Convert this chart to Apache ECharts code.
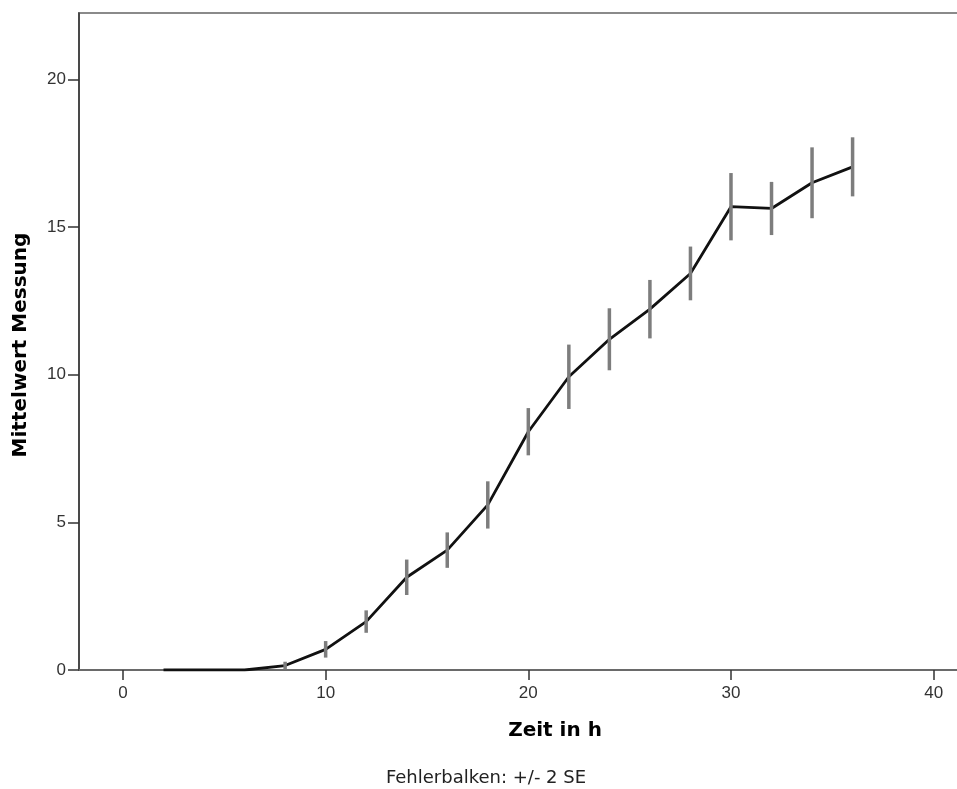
<!DOCTYPE html>
<html>
<head>
<meta charset="utf-8">
<script src="https://cdn.jsdelivr.net/npm/echarts@6/dist/echarts.min.js"></script>
<style>
  html, body { margin: 0; padding: 0; background: #fff; }
  #chart { width: 957px; height: 789px; }
</style>
</head>
<body>
<div id="chart"></div>
<script>
// Zeitpunkte (h), Mittelwerte und Fehlerbalken (2 * Standardfehler)
const zeit = [2, 4, 6, 8, 10, 12, 14, 16, 18, 20, 22, 24, 26, 28, 30, 32, 34, 36];
const mittelwert = [0, 0, 0, 0.15, 0.70, 1.64, 3.14, 4.06, 5.59, 8.07, 9.93, 11.20, 12.22, 13.43, 15.69, 15.63, 16.50, 17.04];
const zweiSE = [0, 0, 0, 0.13, 0.28, 0.38, 0.60, 0.60, 0.80, 0.80, 1.09, 1.05, 0.99, 0.91, 1.14, 0.90, 1.20, 1.00];
const xTicks = [0, 10, 20, 30, 40];
const yTicks = [0, 5, 10, 15, 20];

const linePoints = zeit.map((t, i) => [t, mittelwert[i]]);
const barPoints = zeit.map((t, i) => [t, mittelwert[i] - zweiSE[i], mittelwert[i] + zweiSE[i]])
  .filter((d, i) => zweiSE[i] > 0);

const tickFont = { fontFamily: 'Liberation Sans', fontSize: 17, color: '#333' };

const chart = echarts.init(document.getElementById('chart'), null, { renderer: 'canvas' });
chart.setOption({
  backgroundColor: '#fff',
  animation: false,
  grid: {
    left: 79, top: 13, right: -3, bottom: 119,
    show: true, borderColor: '#8a8a8a', borderWidth: 2,
    outerBoundsMode: 'none'
  },
  xAxis: {
    type: 'value',
    min: -2.17, max: 41.3,
    splitLine: { show: false },
    axisLine: { show: true, onZero: false, lineStyle: { color: '#6a6a6a', width: 2 } },
    axisTick: { show: true, length: 10, customValues: xTicks, lineStyle: { color: '#333', width: 1.5 } },
    axisLabel: Object.assign({ customValues: xTicks, margin: 15 }, tickFont)
  },
  yAxis: {
    type: 'value',
    min: 0, max: 22.25,
    splitLine: { show: false },
    axisLine: { show: true, onZero: false, lineStyle: { color: '#333', width: 1.5 } },
    axisTick: { show: true, length: 11, customValues: yTicks, lineStyle: { color: '#333', width: 1.5 } },
    axisLabel: Object.assign({ customValues: yTicks, margin: 13 }, tickFont)
  },
  series: [
    {
      type: 'line',
      data: linePoints,
      symbol: 'none',
      lineStyle: { color: '#111', width: 2.8 },
      z: 2
    },
    {
      type: 'custom',
      data: barPoints,
      encode: { x: 0, y: [1, 2] },
      renderItem: function (params, api) {
        const lo = api.coord([api.value(0), api.value(1)]);
        const hi = api.coord([api.value(0), api.value(2)]);
        return {
          type: 'line',
          shape: { x1: lo[0], y1: lo[1], x2: hi[0], y2: hi[1] },
          style: { stroke: '#7d7d7d', lineWidth: 3.5 }
        };
      },
      z: 3
    }
  ],
  graphic: [
    {
      type: 'text',
      x: 21, y: 345,
      rotation: Math.PI / 2,
      style: {
        text: 'Mittelwert Messung',
        fontFamily: 'DejaVu Sans', fontWeight: 'bold', fontSize: 20,
        fill: '#000', textAlign: 'center', textVerticalAlign: 'middle'
      }
    },
    {
      type: 'text',
      x: 555, y: 731,
      style: {
        text: 'Zeit in h',
        fontFamily: 'DejaVu Sans', fontWeight: 'bold', fontSize: 20,
        fill: '#000', textAlign: 'center', textVerticalAlign: 'middle'
      }
    },
    {
      type: 'text',
      x: 486, y: 778,
      style: {
        text: 'Fehlerbalken: +/- 2 SE',
        fontFamily: 'DejaVu Sans', fontSize: 18,
        fill: '#222', textAlign: 'center', textVerticalAlign: 'middle'
      }
    }
  ]
});
</script>
</body>
</html>
